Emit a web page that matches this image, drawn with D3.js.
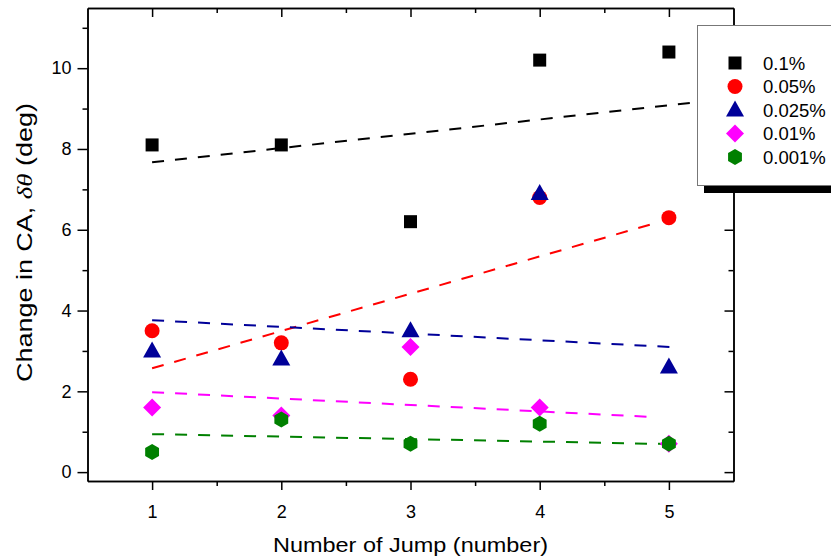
<!DOCTYPE html>
<html>
<head>
<meta charset="utf-8">
<script src="https://cdn.jsdelivr.net/npm/d3@7"></script>
<style>
  body { margin: 0; background: #fff; }
  svg { display: block; font-family: "Liberation Sans", Arial, sans-serif; }
</style>
</head>
<body>
<svg width="831" height="559"></svg>
<script>
  // jump number on x, change in contact angle (deg) on y
  const jumps = [1, 2, 3, 4, 5];
  const seriesNames = ["0.1%", "0.05%", "0.025%", "0.01%", "0.001%"];
  const ca0100 = [8.1, 8.1, 6.2, 10.2, 10.4];
  const ca0050 = [3.5, 3.2, 2.3, 6.8, 6.3];
  const ca0025 = [3.0, 2.8, 3.5, 6.9, 2.6];
  const ca0010 = [1.6, 1.4, 3.1, 1.6, 0.7];
  const ca0001 = [0.5, 1.3, 0.7, 1.2, 0.7];

  // dashed trend lines, start and end points per series
  const trendX0 = [1, 1, 1, 1, 1];
  const trendY0 = [7.67, 2.57, 3.76, 1.98, 0.94];
  const trendX1 = [5.5, 4.9, 5.05, 4.9, 5.08];
  const trendY1 = [9.26, 6.17, 3.09, 1.36, 0.69];

  const xTicks = [1, 2, 3, 4, 5];
  const xMinor = [1.5, 2.5, 3.5, 4.5];
  const yTicks = [0, 2, 4, 6, 8, 10];
  const yMinor = [1, 3, 5, 7, 9, 11];

  const colors = ["#000000", "#ff0000", "#000099", "#ff00ff", "#008000"];
  const shapes = ["square", "circle", "triangle", "diamond", "hexagon"];
  const values = [ca0100, ca0050, ca0025, ca0010, ca0001];

  const margin = { top: 8, right: 97.5, bottom: 78, left: 87.5 };
  const width = 831, height = 559;

  const x = d3.scaleLinear().domain([0.5, 5.5]).range([margin.left, width - margin.right]);
  const y = d3.scaleLinear().domain([-0.22, 11.49]).range([height - margin.bottom, margin.top]);

  const svg = d3.select("svg");

  // marker outlines
  function markerPath(shape) {
    const p = d3.path();
    if (shape === "square") {
      p.rect(-6.5, -6.5, 13, 13);
    } else if (shape === "circle") {
      p.arc(0, 0, 7.5, 0, 2 * Math.PI);
    } else if (shape === "triangle") {
      p.moveTo(0, -9.5); p.lineTo(9, 6.5); p.lineTo(-9, 6.5); p.closePath();
    } else if (shape === "diamond") {
      p.moveTo(0, -9); p.lineTo(9, 0); p.lineTo(0, 9); p.lineTo(-9, 0); p.closePath();
    } else {
      for (let i = 0; i < 6; i++) {
        const a = -Math.PI / 2 + i * Math.PI / 3;
        const px = 8 * Math.cos(a), py = 8 * Math.sin(a);
        i === 0 ? p.moveTo(px, py) : p.lineTo(px, py);
      }
      p.closePath();
    }
    return p.toString();
  }

  // axes: outward ticks bottom/left, inward on top/right
  const axisStyle = g => {
    g.select(".domain").attr("stroke", "#000").attr("stroke-width", 1.5);
    g.selectAll(".tick line").attr("stroke", "#000").attr("stroke-width", 1.5);
    g.selectAll(".tick text").attr("fill", "#000").style("font-size", "18px");
  };
  const fmt = d3.format("d");

  svg.append("g")
    .attr("transform", `translate(0,${y.range()[0]})`)
    .call(d3.axisBottom(x).tickValues(xTicks).tickFormat(fmt).tickSize(9).tickPadding(15).tickSizeOuter(0))
    .call(axisStyle);
  svg.append("g")
    .attr("transform", `translate(0,${y.range()[0]})`)
    .call(d3.axisBottom(x).tickValues(xMinor).tickSize(5).tickFormat("").tickSizeOuter(0))
    .call(axisStyle);
  svg.append("g")
    .attr("transform", `translate(${x.range()[0]},0)`)
    .call(d3.axisLeft(y).tickValues(yTicks).tickFormat(fmt).tickSize(10).tickPadding(6).tickSizeOuter(0))
    .call(axisStyle);
  svg.append("g")
    .attr("transform", `translate(${x.range()[0]},0)`)
    .call(d3.axisLeft(y).tickValues(yMinor).tickSize(5).tickFormat("").tickSizeOuter(0))
    .call(axisStyle);
  svg.append("g")
    .attr("transform", `translate(0,${y.range()[1]})`)
    .call(d3.axisTop(x).tickValues(xTicks).tickSize(-9).tickFormat("").tickSizeOuter(0))
    .call(axisStyle);
  svg.append("g")
    .attr("transform", `translate(0,${y.range()[1]})`)
    .call(d3.axisTop(x).tickValues(xMinor).tickSize(-5).tickFormat("").tickSizeOuter(0))
    .call(axisStyle);
  svg.append("g")
    .attr("transform", `translate(${x.range()[1]},0)`)
    .call(d3.axisRight(y).tickValues(yTicks).tickSize(-9).tickFormat("").tickSizeOuter(0))
    .call(axisStyle);
  svg.append("g")
    .attr("transform", `translate(${x.range()[1]},0)`)
    .call(d3.axisRight(y).tickValues(yMinor).tickSize(-5).tickFormat("").tickSizeOuter(0))
    .call(axisStyle);

  // dashed trend lines
  const line = d3.line().x(d => x(d[0])).y(d => y(d[1]));
  seriesNames.forEach((name, i) => {
    svg.append("path")
      .datum([[trendX0[i], trendY0[i]], [trendX1[i], trendY1[i]]])
      .attr("fill", "none")
      .attr("stroke", colors[i])
      .attr("stroke-width", 2)
      .attr("stroke-dasharray", "12,11")
      .attr("d", line);
  });

  // data markers
  seriesNames.forEach((name, i) => {
    svg.append("g").selectAll("path")
      .data(jumps.map((j, k) => [j, values[i][k]]))
      .enter().append("path")
      .attr("d", markerPath(shapes[i]))
      .attr("transform", d => `translate(${x(d[0])},${y(d[1])})`)
      .attr("fill", colors[i]);
  });

  // legend with drop shadow
  const legend = svg.append("g");
  legend.append("rect")
    .attr("x", 704).attr("y", 185).attr("width", 140).attr("height", 8)
    .attr("fill", "#000");
  legend.append("rect")
    .attr("x", 697.5).attr("y", 25.5).attr("width", 150).attr("height", 160)
    .attr("fill", "#fff").attr("stroke", "#777").attr("stroke-width", 1);
  seriesNames.forEach((name, i) => {
    const cy = 63 + i * 23.5;
    legend.append("path")
      .attr("d", markerPath(shapes[i]))
      .attr("transform", `translate(735,${cy})`)
      .attr("fill", colors[i]);
    legend.append("text")
      .attr("x", 763).attr("y", cy + 6.5)
      .style("font-size", "18.5px")
      .text(name);
  });

  // axis titles
  svg.append("text")
    .attr("x", (x.range()[0] + x.range()[1]) / 2)
    .attr("y", 552)
    .attr("text-anchor", "middle")
    .attr("textLength", 275)
    .attr("lengthAdjust", "spacingAndGlyphs")
    .style("font-size", "21px")
    .text("Number of Jump (number)");

  const yTitle = svg.append("text")
    .attr("transform", "translate(32,242.5) rotate(-90)")
    .attr("text-anchor", "middle")
    .attr("textLength", 279)
    .attr("lengthAdjust", "spacingAndGlyphs")
    .style("font-size", "22px");
  yTitle.append("tspan").text("Change in CA,  ");
  yTitle.append("tspan")
    .style("font-family", "'Liberation Serif', serif")
    .style("font-style", "italic")
    .text("δθ");
  yTitle.append("tspan").text(" (deg)");
</script>
</body>
</html>
